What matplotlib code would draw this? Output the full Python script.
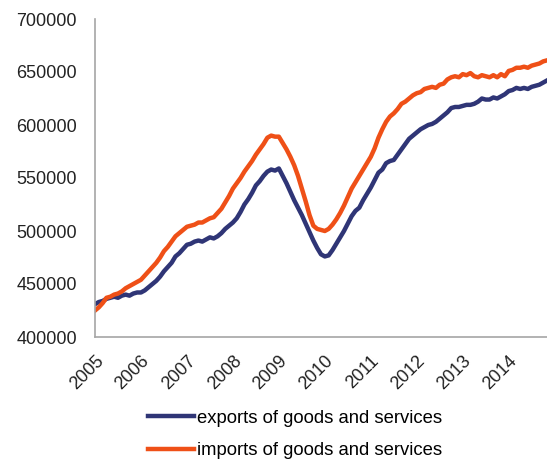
import matplotlib.pyplot as plt
import numpy as np

plt.rcParams['font.family'] = ['Liberation Sans', 'DejaVu Sans']

# monthly values, Jan 2005 - Nov 2014 (thousands)
exports = [
    431, 433, 434, 436, 437, 438, 437, 439, 440, 439, 441, 442,   # 2005
    442, 444, 447, 450, 453, 457, 462, 466, 470, 476, 479, 483,   # 2006
    487, 488, 490, 491, 490, 492, 494, 493, 495, 498, 502, 505,   # 2007
    508, 512, 518, 525, 530, 536, 543, 547, 552, 556, 558, 557,   # 2008
    559, 552, 545, 537, 529, 522, 515, 507, 499, 491, 484, 478,   # 2009
    476, 477, 482, 488, 494, 500, 507, 514, 519, 522, 529, 535,   # 2010
    541, 548, 555, 558, 564, 566, 567, 572, 577, 582, 587, 590,   # 2011
    593, 596, 598, 600, 601, 603, 606, 609, 612, 616, 617, 617,   # 2012
    618, 619, 619, 620, 622, 625, 624, 624, 626, 625, 627, 629,   # 2013
    632, 633, 635, 634, 635, 634, 636, 637, 638, 640, 642,        # 2014
]
imports = [
    425, 428, 432, 437, 438, 440, 441, 443, 446, 448, 450, 452,   # 2005
    454, 458, 462, 466, 470, 475, 481, 485, 490, 495, 498, 501,   # 2006
    504, 505, 506, 508, 508, 510, 512, 513, 517, 521, 527, 533,   # 2007
    540, 545, 550, 556, 561, 566, 572, 577, 582, 588, 590, 589,   # 2008
    589, 583, 577, 570, 562, 552, 540, 528, 515, 505, 502, 501,   # 2009
    500, 502, 506, 511, 517, 524, 532, 540, 546, 552, 558, 564,   # 2010
    570, 578, 588, 596, 603, 608, 611, 615, 620, 622, 625, 628,   # 2011
    630, 631, 634, 635, 636, 635, 638, 639, 643, 645, 646, 645,   # 2012
    648, 647, 649, 646, 645, 647, 646, 645, 647, 645, 648, 646,   # 2013
    651, 652, 654, 654, 655, 654, 656, 657, 658, 660, 661,        # 2014
]
years = list(range(2005, 2015))

t = 2005 + np.arange(len(exports)) / 12
exp = np.array(exports) * 1000
imp = np.array(imports) * 1000

fig = plt.figure(figsize=(5.47, 4.59), dpi=100)
ax = fig.add_axes([95 / 547, 1 - 337 / 459, 1 - 95 / 547, (337 - 19) / 459])

ax.plot(t, exp, color='#2F3576', lw=3.2, label='exports of goods and services')
ax.plot(t, imp, color='#EF5017', lw=3.2, label='imports of goods and services')

ax.set_xlim(2005, t[-1])
ax.set_ylim(400000, 700000)
ax.set_yticks(np.arange(400000, 700001, 50000))
ax.set_xticks(years)
ax.set_xticklabels([str(y) for y in years], rotation=45, ha='right',
                   rotation_mode='anchor')
ax.tick_params(axis='both', length=0, labelsize=13, colors='#222222')
ax.tick_params(axis='y', pad=13)
ax.tick_params(axis='x', pad=11)

for s in ['top', 'right']:
    ax.spines[s].set_visible(False)
for s in ['left', 'bottom']:
    ax.spines[s].set_color('#A6A6A6')
    ax.spines[s].set_linewidth(1.2)

fig.legend(loc='upper left', bbox_to_anchor=(131 / 547, 1 - 393 / 459),
           frameon=False, fontsize=13.3, handlelength=2.5, handletextpad=0.15,
           labelspacing=0.85)

fig.savefig('out.png', dpi=100)
